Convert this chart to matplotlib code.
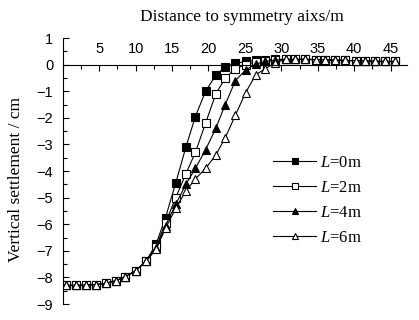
import matplotlib
matplotlib.use('Agg')
import matplotlib.pyplot as plt
from matplotlib.ticker import MultipleLocator

plt.rcParams['mathtext.fontset'] = 'custom'
plt.rcParams['mathtext.it'] = 'Liberation Serif:italic'
plt.rcParams['mathtext.rm'] = 'Liberation Serif'

# distance to symmetry axis (m), shared by all four cases
dist = [0.4, 1.8, 3.2, 4.5, 5.9, 7.3, 8.6, 10.0, 11.4, 12.8, 14.1, 15.5,
        16.9, 18.2, 19.6, 21.0, 22.3, 23.7, 25.1, 26.5, 27.8, 29.2, 30.6,
        31.9, 33.3, 34.7, 36.0, 37.4, 38.8, 40.2, 41.5, 42.9, 44.3, 45.6]

base = [-8.30, -8.30, -8.29, -8.27, -8.22, -8.12, -7.97, -7.75, -7.40]
tail = [0.20, 0.20, 0.20, 0.19, 0.18, 0.17, 0.16, 0.15, 0.14, 0.13, 0.12, 0.12]

set_L0 = base + [-6.75, -5.75, -4.45, -3.10, -1.95, -1.00, -0.40, -0.08,
                 0.05, 0.12, 0.16, 0.18, 0.20] + tail
set_L2 = base + [-6.85, -5.95, -5.00, -4.10, -3.30, -2.20, -1.10, -0.50,
                 -0.15, 0.00, 0.10, 0.15, 0.18] + tail
set_L4 = base + [-6.90, -6.05, -5.25, -4.50, -3.90, -3.20, -2.40, -1.50,
                 -0.60, -0.20, 0.02, 0.12, 0.17] + tail
set_L6 = base + [-6.95, -6.15, -5.40, -4.75, -4.30, -3.90, -3.40, -2.75,
                 -1.90, -1.05, -0.38, -0.15, 0.08] + tail

labels = ['0', '2', '4', '6']

fig = plt.figure(figsize=(4.19, 3.2), dpi=100)
ax = fig.add_axes([0.150, 0.05, 0.822, 0.831])

styles = [('s', 'k'), ('s', 'w'), ('^', 'k'), ('^', 'w')]
for data, lab, (mk, fc) in zip([set_L0, set_L2, set_L4, set_L6], labels, styles):
    ax.plot(dist, data, color='k', lw=0.8, marker=mk, ms=5.8,
            mfc=fc, mec='k', mew=0.8, label=r'$L$=' + lab + 'm')

ax.set_xlim(0, 47.3)
ax.set_ylim(-9, 1)

ax.spines['right'].set_visible(False)
ax.spines['bottom'].set_visible(False)
ax.spines['top'].set_position(('data', 0))
ax.spines['left'].set_linewidth(0.8)
ax.spines['top'].set_linewidth(0.8)

ax.xaxis.set_ticks_position('top')
ax.xaxis.set_label_position('top')
ax.set_xticks([5, 10, 15, 20, 25, 30, 35, 40, 45])
ax.xaxis.set_minor_locator(MultipleLocator(2.5))
ax.yaxis.set_major_locator(MultipleLocator(1))
ax.yaxis.set_minor_locator(MultipleLocator(0.5))
ax.tick_params(axis='both', which='both', direction='in', width=0.8,
               labelsize=10.5, labelfontfamily='Liberation Sans')
ax.tick_params(axis='both', which='major', length=4)
ax.tick_params(axis='both', which='minor', length=3)
ax.tick_params(axis='x', pad=6)
ax.tick_params(axis='y', pad=7)

# axis titles
fig.text(0.578, 0.946, 'Distance to symmetry aixs/m', ha='center', va='center',
         family='Liberation Serif', fontsize=12.5)
fig.text(0.038, 0.44, 'Vertical settlement / cm', ha='center', va='center',
         rotation=90, family='Liberation Serif', fontsize=12.5)

leg = ax.legend(loc='center left', bbox_to_anchor=(0.61, 0.39), frameon=False,
                handlelength=2.6, handletextpad=0.25, labelspacing=0.55,
                borderaxespad=0, borderpad=0, markerscale=0.75,
                prop={'family': 'Liberation Serif', 'size': 12})

fig.savefig('out.png', dpi=100)
